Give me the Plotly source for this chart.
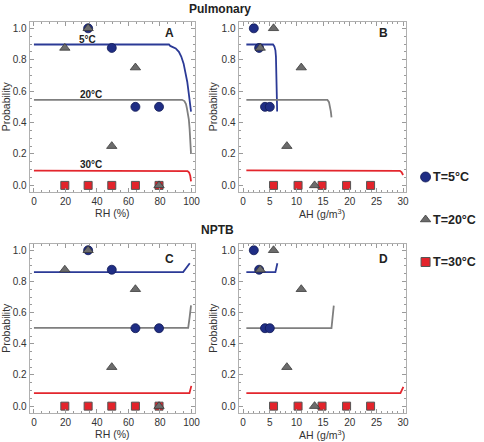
import plotly.graph_objects as go

# ---------------- data ----------------
# observed points (RH %, AH g/m3) and probabilities
rh_5 = [34.4, 49.4, 64.4, 79.4]
p_5 = [1.0, 0.875, 0.5, 0.5]
rh_20 = [19.6, 34.4, 49.4, 64.4, 79.4]
p_20 = [0.875, 1.0, 0.25, 0.75, 0.0]
rh_30 = [19.6, 34.4, 49.4, 64.4, 79.4]
p_30 = [0.0, 0.0, 0.0, 0.0, 0.0]

ah_5 = [2.0, 3.0, 4.1, 5.0]
ah_20 = [3.2, 5.7, 8.2, 10.9, 13.4]
ah_30 = [5.7, 10.3, 14.8, 19.4, 23.9]

# fitted curves, Pulmonary (A: RH, B: AH)
a5_x = [0, 85.7, 86.5, 88, 90, 92, 93.5, 95, 96.2, 97.3, 98.2, 99, 99.7]
a5_y = [0.897, 0.897, 0.888, 0.882, 0.872, 0.85, 0.82, 0.775, 0.72, 0.66, 0.59, 0.53, 0.47]
a20_x = [0, 94, 95.5, 96.5, 97.1, 97.8, 98.3, 98.8, 99.2, 99.7]
a20_y = [0.545, 0.545, 0.537, 0.518, 0.49, 0.46, 0.42, 0.36, 0.29, 0.2]
a30_x = [0, 96, 97.5, 98.5, 99.2, 99.7]
a30_y = [0.094, 0.094, 0.091, 0.082, 0.062, 0.025]

b5_x = [0.6, 5.6, 5.85, 6.05, 6.15, 6.25, 6.32, 6.38]
b5_y = [0.897, 0.897, 0.885, 0.86, 0.82, 0.72, 0.6, 0.47]
b20_x = [0.6, 15.8, 16.1, 16.3, 16.45, 16.57]
b20_y = [0.545, 0.545, 0.53, 0.5, 0.47, 0.433]
b30_x = [0.6, 28.9, 29.4, 29.7, 30.0]
b30_y = [0.096, 0.096, 0.093, 0.085, 0.066]

# fitted curves, NPTB (C: RH, D: AH)
c5_x = [0, 94.7, 98.9]
c5_y = [0.86, 0.86, 0.917]
c20_x = [0, 97.9, 98.8, 99.7]
c20_y = [0.502, 0.502, 0.57, 0.646]
c30_x = [0, 98.7, 99.9]
c30_y = [0.083, 0.083, 0.13]

d5_x = [0.6, 6.05, 6.42]
d5_y = [0.86, 0.86, 0.917]
d20_x = [0.6, 16.57, 17.0]
d20_y = [0.50, 0.50, 0.645]
d30_x = [0.6, 29.5, 30.05]
d30_y = [0.083, 0.083, 0.123]

legend_labels = ["T=5°C", "T=20°C", "T=30°C"]
panel_letters = ["A", "B", "C", "D"]
curve_labels = ["5°C", "20°C", "30°C"]

# ---------------- style ----------------
FONT = "Liberation Sans, Arial, sans-serif"
BLUE_L, GRAY_L, RED_L = "#2b3a96", "#7f7f7f", "#e3262d"
circ = dict(symbol="circle", size=9, color="#1f2d84", line=dict(color="#121a55", width=0.8))
tri = dict(symbol="triangle-up", size=9, color="#6c6c6c", line=dict(color="#3a3a3a", width=0.8))
sq = dict(symbol="square", size=8, color="#e3232b", line=dict(color="#555555", width=1))

W, H = 484, 442


def px(v):
    return v / W


def py(v):
    return 1 - v / H


fig = go.Figure()

panels = [
    ("x", "y", (a5_x, a5_y), (a20_x, a20_y), (a30_x, a30_y), rh_5, rh_20, rh_30),
    ("x2", "y2", (b5_x, b5_y), (b20_x, b20_y), (b30_x, b30_y), ah_5, ah_20, ah_30),
    ("x3", "y3", (c5_x, c5_y), (c20_x, c20_y), (c30_x, c30_y), rh_5, rh_20, rh_30),
    ("x4", "y4", (d5_x, d5_y), (d20_x, d20_y), (d30_x, d30_y), ah_5, ah_20, ah_30),
]

for xa, ya, c5, c20, c30, x5, x20, x30 in panels:
    for (cx, cy), col in ((c5, BLUE_L), (c20, GRAY_L), (c30, RED_L)):
        fig.add_trace(go.Scatter(x=cx, y=cy, mode="lines", xaxis=xa, yaxis=ya,
                                 line=dict(color=col, width=1.8),
                                 showlegend=False, hoverinfo="skip", cliponaxis=False))
    fig.add_trace(go.Scatter(x=x5, y=p_5, mode="markers", marker=circ, xaxis=xa, yaxis=ya,
                             showlegend=False, cliponaxis=False))
    fig.add_trace(go.Scatter(x=x30, y=p_30, mode="markers", marker=sq, xaxis=xa, yaxis=ya,
                             showlegend=False, cliponaxis=False))
    fig.add_trace(go.Scatter(x=x20, y=p_20, mode="markers", marker=tri, xaxis=xa, yaxis=ya,
                             showlegend=False, cliponaxis=False))

# legend (hidden axis)
leg_markers = [dict(circ, size=10), dict(tri, size=9), dict(sq, size=9)]
for i, (lab, mk) in enumerate(zip(legend_labels, leg_markers)):
    fig.add_trace(go.Scatter(x=[0], y=[len(legend_labels) - 1 - i], mode="markers", marker=mk,
                             xaxis="x5", yaxis="y5", showlegend=False, cliponaxis=False,
                             hoverinfo="skip"))
    fig.add_annotation(x=px(436), xref="paper", y=len(legend_labels) - 1 - i, yref="y5",
                       text="<b>%s</b>" % lab, showarrow=False, xanchor="left", yanchor="middle",
                       font=dict(family=FONT, size=12.5, color="#222"))

tickfont = dict(family=FONT, size=10, color="#333")
titlefont = dict(family=FONT, size=10.5, color="#333")
base = dict(showline=True, linecolor="#b0b0b0", linewidth=1, mirror="allticks", ticks="inside",
            ticklen=4, tickcolor="#9a9a9a", tickwidth=1, showgrid=False, zeroline=False,
            tickfont=tickfont)

xA_dom = [px(30), px(197)]
xB_dom = [px(241), px(410)]
yT_dom = [py(192), py(21.7)]
yB_dom = [py(412.7), py(243.7)]


def xrh(anchor, dom):
    return dict(base, domain=dom, anchor=anchor, range=[-2.7, 102.2], tickvals=[0, 20, 40, 60, 80, 100],
                minor=dict(ticks="inside", ticklen=2, tickcolor="#9a9a9a", dtick=5, tick0=0),
                title=dict(text="RH (%)", font=titlefont, standoff=3))


def xah(anchor, dom):
    return dict(base, domain=dom, anchor=anchor, range=[-0.87, 30.5], tickvals=[0, 5, 10, 15, 20, 25, 30],
                minor=dict(ticks="inside", ticklen=2, tickcolor="#9a9a9a", dtick=1, tick0=0),
                title=dict(text="AH (g/m<sup>3</sup>)", font=titlefont, standoff=3))


def yp(anchor, dom):
    return dict(base, domain=dom, anchor=anchor, range=[-0.042, 1.042], tickvals=[0, 0.2, 0.4, 0.6, 0.8, 1.0],
                tickformat=".1f",
                minor=dict(ticks="inside", ticklen=2, tickcolor="#9a9a9a", dtick=0.05, tick0=0),
                title=dict(text="Probability", font=titlefont, standoff=1))


fig.update_layout(
    width=W, height=H, margin=dict(l=0, r=0, t=0, b=0),
    paper_bgcolor="white", plot_bgcolor="white", showlegend=False,
    font=dict(family=FONT),
    xaxis=xrh("y", xA_dom), yaxis=yp("x", yT_dom),
    xaxis2=xah("y2", xB_dom), yaxis2=yp("x2", yT_dom),
    xaxis3=xrh("y3", xA_dom), yaxis3=yp("x3", yB_dom),
    xaxis4=xah("y4", xB_dom), yaxis4=yp("x4", yB_dom),
    xaxis5=dict(domain=[px(424), px(436)], range=[-1, 1], visible=False, anchor="y5", fixedrange=True),
    yaxis5=dict(domain=[py(283.25), py(155.75)], range=[-0.5, 2.5], visible=False, anchor="x5", fixedrange=True),
)

# titles
fig.add_annotation(x=px(222), y=py(8.5), xref="paper", yref="paper", text="<b>Pulmonary</b>",
                   showarrow=False, xanchor="center", yanchor="middle",
                   font=dict(family=FONT, size=12, color="#222"))
fig.add_annotation(x=px(220), y=py(230), xref="paper", yref="paper", text="<b>NPTB</b>",
                   showarrow=False, xanchor="center", yanchor="middle",
                   font=dict(family=FONT, size=12, color="#222"))

# panel letters
letter_pos = [("x domain", "y domain", 0.843, 0.932), ("x2 domain", "y2 domain", 0.868, 0.932),
              ("x3 domain", "y3 domain", 0.843, 0.909), ("x4 domain", "y4 domain", 0.868, 0.909)]
for lab, (xr, yr, xx, yy) in zip(panel_letters, letter_pos):
    fig.add_annotation(x=xx, y=yy, xref=xr, yref=yr, text="<b>%s</b>" % lab, showarrow=False,
                       xanchor="center", yanchor="middle",
                       font=dict(family=FONT, size=12, color="#222"))

# curve labels in panel A
for lab, (xx, yy) in zip(curve_labels, [(33.7, 0.93), (36.2, 0.58), (36.2, 0.135)]):
    fig.add_annotation(x=xx, y=yy, xref="x", yref="y", text="<b>%s</b>" % lab, showarrow=False,
                       xanchor="center", yanchor="middle",
                       font=dict(family=FONT, size=10, color="#222"))

# remove the page's default 8px body margin so the figure fills the window exactly
fig.write_html("out.html", config={"displayModeBar": False},
               post_script="document.body.style.margin='0px';")
